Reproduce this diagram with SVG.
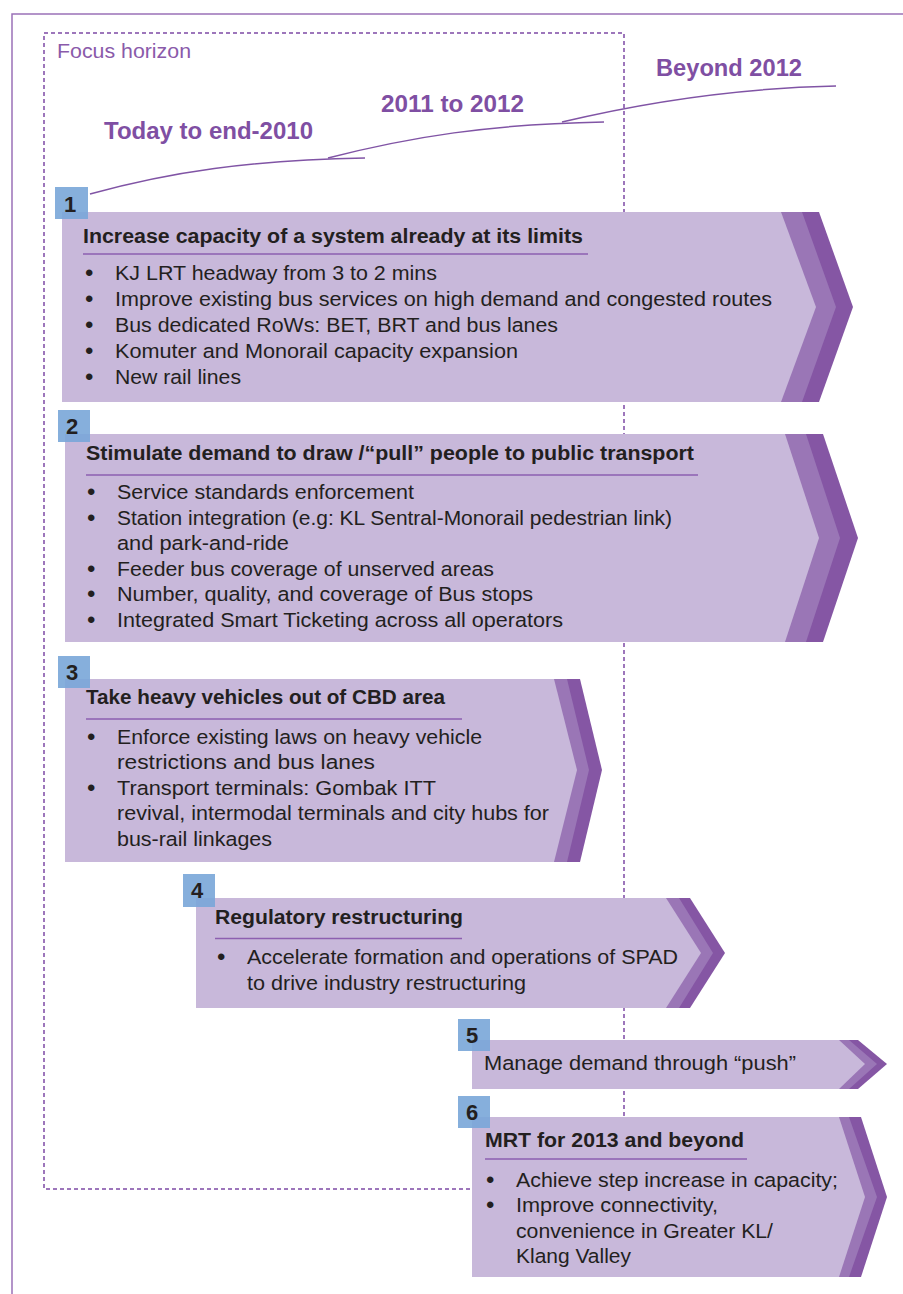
<svg xmlns="http://www.w3.org/2000/svg" width="903" height="1294" viewBox="0 0 903 1294">
<style>
.frame{fill:none;stroke:#9b72b8;stroke-width:1.5}
.focus{fill:none;stroke:#7d4aa5;stroke-width:1.5;stroke-dasharray:4 3}
.tl{fill:none;stroke:#8054a5;stroke-width:1.5}
.lbl{font-family:"Liberation Sans",Arial,sans-serif;font-weight:bold;font-size:23px;fill:#7f4fa3}
.fh{font-family:"Liberation Sans",Arial,sans-serif;font-size:20.5px;fill:#8a5aaa}
.light{fill:#c8b8da}
.med{fill:#9a76b6}
.dark{fill:#8556a4}
.num{fill:#79a6d8;opacity:0.9}
.digit{font-family:"Liberation Sans",Arial,sans-serif;font-weight:bold;font-size:22px;fill:#231f20}
.title{font-family:"Liberation Sans",Arial,sans-serif;font-weight:bold;font-size:20px;fill:#231f20}
.txt{font-family:"Liberation Sans",Arial,sans-serif;font-size:20.5px;fill:#231f20}
.bul{font-family:"Liberation Sans",Arial,sans-serif;font-size:24px;fill:#231f20}
.ul{stroke:#8d5fb0;stroke-width:1.5}
</style>
<rect width="903" height="1294" fill="#ffffff"/>
<path class="frame" d="M12,1294 V14 H903"/>
<rect id="focus-horizon" class="focus" x="44" y="33" width="580" height="1156"/>
<text class="fh" x="57" y="58" textLength="134" lengthAdjust="spacingAndGlyphs">Focus horizon</text>

<g id="timeline">
<path class="tl" d="M90,194 C170,172 250,160 365,158"/>
<path class="tl" d="M328,158 C410,137 490,124 604,122"/>
<path class="tl" d="M562,122 C650,101 740,88 836,86"/>
<text class="lbl" x="104" y="139" textLength="209" lengthAdjust="spacingAndGlyphs">Today to end-2010</text>
<text class="lbl" x="381" y="112" textLength="143" lengthAdjust="spacingAndGlyphs">2011 to 2012</text>
<text class="lbl" x="656" y="76" textLength="146" lengthAdjust="spacingAndGlyphs">Beyond 2012</text>
</g>

<g id="node1">
<polygon class="dark" points="62,212 819,212 853,307 819,402 62,402"/>
<polygon class="med" points="62,212 802,212 836,307 802,402 62,402"/>
<polygon class="light" points="62,212 781,212 816,307 781,402 62,402"/>
<rect class="num" x="55" y="187" width="33" height="32"/>
<text class="digit" x="64" y="212">1</text>
<text class="title" x="83" y="243" textLength="500" lengthAdjust="spacingAndGlyphs">Increase capacity of a system already at its limits</text>
<line class="ul" x1="83" y1="254" x2="588" y2="254"/>
<text class="bul" x="85" y="281">•</text><text class="txt" x="115" y="280" textLength="322" lengthAdjust="spacingAndGlyphs">KJ LRT headway from 3 to 2 mins</text>
<text class="bul" x="85" y="307">•</text><text class="txt" x="115" y="306" textLength="657" lengthAdjust="spacingAndGlyphs">Improve existing bus services on high demand and congested routes</text>
<text class="bul" x="85" y="333">•</text><text class="txt" x="115" y="332" textLength="443" lengthAdjust="spacingAndGlyphs">Bus dedicated RoWs: BET, BRT and bus lanes</text>
<text class="bul" x="85" y="359">•</text><text class="txt" x="115" y="358" textLength="403" lengthAdjust="spacingAndGlyphs">Komuter and Monorail capacity expansion</text>
<text class="bul" x="85" y="385">•</text><text class="txt" x="115" y="384" textLength="126" lengthAdjust="spacingAndGlyphs">New rail lines</text>
</g>

<g id="node2">
<polygon class="dark" points="65,434 823,434 858,538 823,642 65,642"/>
<polygon class="med" points="65,434 806,434 840,538 806,642 65,642"/>
<polygon class="light" points="65,434 785,434 819,538 785,642 65,642"/>
<rect class="num" x="58" y="410" width="32" height="32"/>
<text class="digit" x="66" y="434">2</text>
<text class="title" x="86" y="460" textLength="608" lengthAdjust="spacingAndGlyphs">Stimulate demand to draw /“pull” people to public transport</text>
<line class="ul" x1="86" y1="475" x2="698" y2="475"/>
<text class="bul" x="87" y="500">•</text><text class="txt" x="117" y="499" textLength="297" lengthAdjust="spacingAndGlyphs">Service standards enforcement</text>
<text class="bul" x="87" y="525.5">•</text><text class="txt" x="117" y="524.5" textLength="555" lengthAdjust="spacingAndGlyphs">Station integration (e.g: KL Sentral-Monorail pedestrian link)</text>
<text class="txt" x="117" y="550" textLength="172" lengthAdjust="spacingAndGlyphs">and park-and-ride</text>
<text class="bul" x="87" y="576.5">•</text><text class="txt" x="117" y="575.5" textLength="377" lengthAdjust="spacingAndGlyphs">Feeder bus coverage of unserved areas</text>
<text class="bul" x="87" y="602">•</text><text class="txt" x="117" y="601" textLength="416" lengthAdjust="spacingAndGlyphs">Number, quality, and coverage of Bus stops</text>
<text class="bul" x="87" y="627.5">•</text><text class="txt" x="117" y="626.5" textLength="446" lengthAdjust="spacingAndGlyphs">Integrated Smart Ticketing across all operators</text>
</g>

<g id="node3">
<polygon class="dark" points="65,679 580,679 602,770 580,862 65,862"/>
<polygon class="med" points="65,679 567,679 589,770 567,862 65,862"/>
<polygon class="light" points="65,679 554,679 577,770 554,862 65,862"/>
<rect class="num" x="58" y="656" width="32" height="32"/>
<text class="digit" x="66" y="680">3</text>
<text class="title" x="86" y="704" textLength="359" lengthAdjust="spacingAndGlyphs">Take heavy vehicles out of CBD area</text>
<line class="ul" x1="86" y1="719" x2="462" y2="719"/>
<text class="bul" x="87" y="744.5">•</text><text class="txt" x="117" y="743.5" textLength="365" lengthAdjust="spacingAndGlyphs">Enforce existing laws on heavy vehicle</text>
<text class="txt" x="117" y="769" textLength="258" lengthAdjust="spacingAndGlyphs">restrictions and bus lanes</text>
<text class="bul" x="87" y="795.5">•</text><text class="txt" x="117" y="794.5" textLength="319" lengthAdjust="spacingAndGlyphs">Transport terminals: Gombak ITT</text>
<text class="txt" x="117" y="820" textLength="432" lengthAdjust="spacingAndGlyphs">revival, intermodal terminals and city hubs for</text>
<text class="txt" x="117" y="845.5" textLength="155" lengthAdjust="spacingAndGlyphs">bus-rail linkages</text>
</g>

<g id="node4">
<polygon class="dark" points="196,898 690,898 725,953 690,1008 196,1008"/>
<polygon class="med" points="196,898 679,898 713,953 679,1008 196,1008"/>
<polygon class="light" points="196,898 666,898 701,953 666,1008 196,1008"/>
<rect class="num" x="183" y="874" width="32" height="33"/>
<text class="digit" x="191" y="898">4</text>
<text class="title" x="215" y="924" textLength="248" lengthAdjust="spacingAndGlyphs">Regulatory restructuring</text>
<line class="ul" x1="215" y1="938.5" x2="462" y2="938.5"/>
<text class="bul" x="217" y="964.5">•</text><text class="txt" x="247" y="963.5" textLength="431" lengthAdjust="spacingAndGlyphs">Accelerate formation and operations of SPAD</text>
<text class="txt" x="247" y="989.5" textLength="279" lengthAdjust="spacingAndGlyphs">to drive industry restructuring</text>
</g>

<g id="node5">
<polygon class="dark" points="472,1040 858,1040 887,1064 858,1089 472,1089"/>
<polygon class="med" points="472,1040 849,1040 877,1064 849,1089 472,1089"/>
<polygon class="light" points="472,1040 839,1040 865,1064 839,1089 472,1089"/>
<rect class="num" x="458" y="1019" width="32" height="32"/>
<text class="digit" x="466" y="1043">5</text>
<text class="txt" x="484" y="1070" textLength="312" lengthAdjust="spacingAndGlyphs">Manage demand through “push”</text>
</g>

<g id="node6">
<polygon class="dark" points="472,1117 861,1117 887,1197 861,1277 472,1277"/>
<polygon class="med" points="472,1117 849,1117 877,1197 849,1277 472,1277"/>
<polygon class="light" points="472,1117 839,1117 865,1197 839,1277 472,1277"/>
<rect class="num" x="458" y="1096" width="32" height="32"/>
<text class="digit" x="466" y="1120">6</text>
<text class="title" x="485" y="1147" textLength="259" lengthAdjust="spacingAndGlyphs">MRT for 2013 and beyond</text>
<line class="ul" x1="485" y1="1159" x2="747" y2="1159"/>
<text class="bul" x="486" y="1188">•</text><text class="txt" x="516" y="1187" textLength="322" lengthAdjust="spacingAndGlyphs">Achieve step increase in capacity;</text>
<text class="bul" x="486" y="1213">•</text><text class="txt" x="516" y="1212" textLength="202" lengthAdjust="spacingAndGlyphs">Improve connectivity,</text>
<text class="txt" x="516" y="1237.5" textLength="257" lengthAdjust="spacingAndGlyphs">convenience in Greater KL/</text>
<text class="txt" x="516" y="1263" textLength="115" lengthAdjust="spacingAndGlyphs">Klang Valley</text>
</g>
</svg>
